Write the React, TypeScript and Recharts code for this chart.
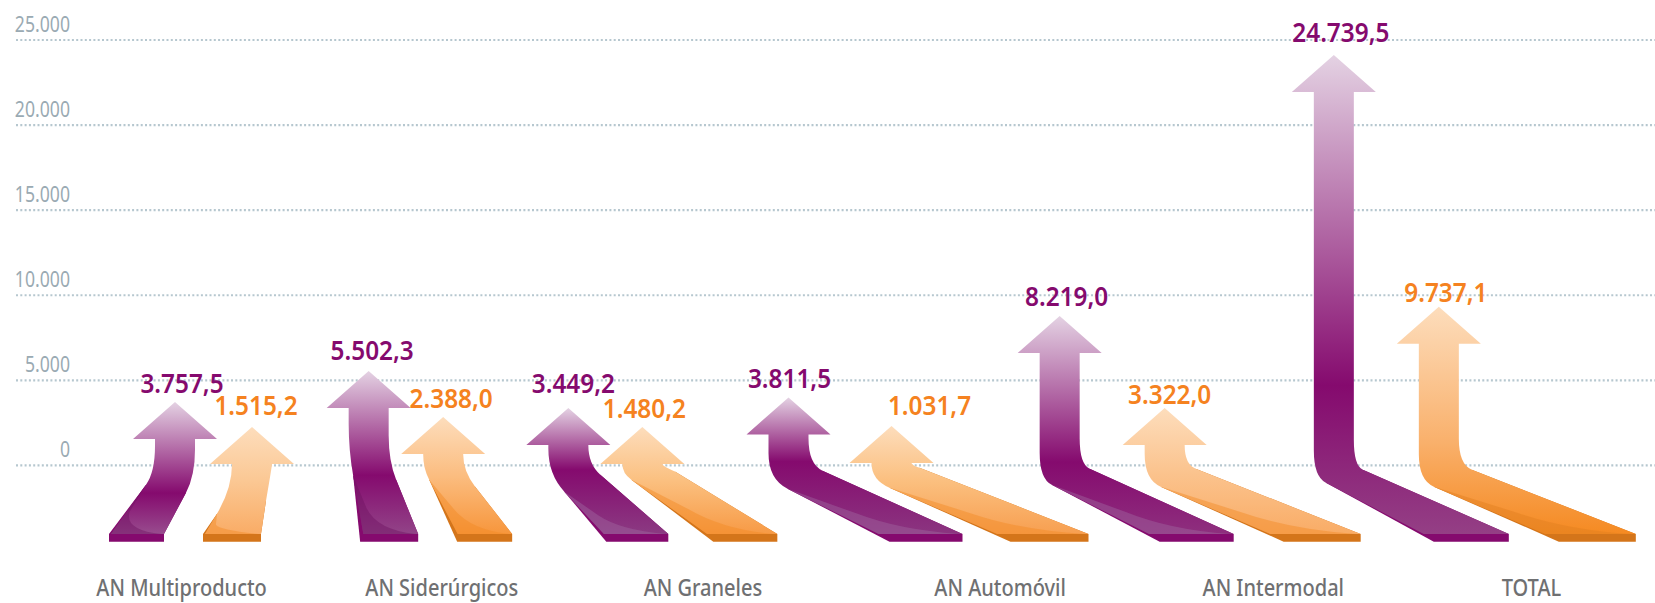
import React from 'react';
import { ComposedChart, Bar, XAxis, YAxis, CartesianGrid } from 'recharts';

const categories = ['AN Multiproducto', 'AN Siderúrgicos', 'AN Graneles', 'AN Automóvil', 'AN Intermodal', 'TOTAL'];

// Printed figures. The arrows in the source are not drawn to scale, so the
// heights below are read off the axis separately.
const purpleLabels = ['3.757,5', '5.502,3', '3.449,2', '3.811,5', '8.219,0', '24.739,5'];
const orangeLabels = ['1.515,2', '2.388,0', '1.480,2', '1.031,7', '3.322,0', '9.737,1'];
const purpleTops = [3730, 5550, 3375, 3995, 8780, 24120];
const orangeTops = [2260, 2845, 2260, 2320, 3375, 9330];

const yTicks = [0, 5000, 10000, 15000, 20000, 25000];
const yTickLabels = ['0', '5.000', '10.000', '15.000', '20.000', '25.000'];
const FOOT_VALUE = -4480;

const PURPLE = { tip: '#E4D2E3', side: '#850A6E' };
const ORANGE = { tip: '#FDDDBC', side: '#D4751A' };

// Hand-placed shape of each arrow, the source is a pictogram and not a regular bar
interface ArrowShape {
  dx: number; // shaft centre relative to the bar slot
  foot: [number, number]; // foot left / right relative to the shaft
  kneeL: [number, number]; // x relative to the shaft, height above the bottom
  kneeR: [number, number];
  midAt: number; // where the gradient reaches its middle colour, 0-1 from the tip
  mid: string;
  end: string; // colour at the foot
  swoosh?: string;
  text: [number, number]; // label offset from the tip
}

const purpleShapes: ArrowShape[] = [
  { dx: 60, foot: [-66, -11], kneeL: [-29, 57], kneeR: [11, 49], midAt: 0.69, mid: '#850A6E', end: '#984C8E', swoosh: '#6E1262', text: [7, -9] },
  { dx: -19.5, foot: [-8.5, 49.5], kneeL: [-15.5, 66], kneeR: [27.5, 62], midAt: 0.64, mid: '#850A6E', end: '#924488', swoosh: '#6E1262', text: [3.5, -11] },
  { dx: -93, foot: [38, 100], kneeL: [-4, 50], kneeR: [32, 67], midAt: 0.49, mid: '#850A6E', end: '#8B3A82', swoosh: '#A066A0', text: [5, -15] },
  { dx: -146, foot: [101, 174], kneeL: [-1, 53], kneeR: [34, 71], midAt: 0.47, mid: '#850A6E', end: '#8B3580', swoosh: '#A066A0', text: [1, -9] },
  { dx: -148, foot: [100, 174], kneeL: [-8, 57], kneeR: [30, 73], midAt: 0.67, mid: '#850A6E', end: '#8E2F7E', swoosh: '#A066A0', text: [7, -10] },
  { dx: -147, foot: [100, 175], kneeL: [-8, 59], kneeR: [29, 72], midAt: 0.69, mid: '#850A6E', end: '#943F85', text: [7, -13] },
];

const orangeShapes: ArrowShape[] = [
  { dx: 62, foot: [-49, 9], kneeL: [-35, 28], kneeR: [14, 41], midAt: 0.5, mid: '#FBC894', end: '#F9AC66', swoosh: '#F28A24', text: [4, -12] },
  { dx: -20, foot: [14, 69], kneeL: [-14, 62], kneeR: [32, 55], midAt: 0.5, mid: '#FBBD80', end: '#F7963C', swoosh: '#F28A24', text: [8, -9] },
  { dx: -94, foot: [71, 135], kneeL: [-11, 62], kneeR: [33, 70], midAt: 0.5, mid: '#FBC080', end: '#F79A45', swoosh: '#F28A24', text: [2, -9] },
  { dx: -118, foot: [119, 197], kneeL: [-2, 54], kneeR: [28, 74], midAt: 0.5, mid: '#FBC080', end: '#F79F50', swoosh: '#F28A24', text: [38, -11] },
  { dx: -118, foot: [119, 196], kneeL: [-4, 55], kneeR: [31, 73], midAt: 0.5, mid: '#FBC48F', end: '#F9AC66', swoosh: '#F28A24', text: [5, -4] },
  { dx: -117, foot: [120, 197], kneeL: [-5, 55], kneeR: [33, 72], midAt: 0.6, mid: '#F9B06B', end: '#F58A22', swoosh: '#E07E1E', text: [7, -5] },
];

const rows = categories.map((name, i) => ({ name, purple: purpleTops[i], orange: orangeTops[i] }));

const HEAD_HALF = 42;
const HEAD_H = 37;
const SHAFT_HALF = 20;
const BAND_H = 7.7;

// curve from the vertical shaft into the slanted foot edge: the control point
// sits where the two lines cross so the bend has no kink
const bend = (shaftX: number, kneeX: number, kneeY: number, endX: number, endY: number, headBase: number) => {
  const run = endX - kneeX;
  const cross = Math.abs(run) < 1 ? kneeY - 6 : kneeY + ((shaftX - kneeX) * (endY - kneeY)) / run;
  const ctrlY = Math.max(headBase + 2, Math.min(cross, kneeY - 2));
  const reach = Math.max(Math.hypot(kneeX - shaftX, kneeY - ctrlY), 26);
  return { ctrlY, startY: Math.max(headBase, ctrlY - reach) };
};

const makeArrow = (prefix: string, shapes: ArrowShape[], labels: string[], pal: typeof PURPLE, textColor: string) =>
  (props: any) => {
    const { x, y, width, height, index } = props;
    const s = shapes[index];
    const cx = x + width / 2 + s.dx;
    const bottom = y + height;
    const footTop = bottom - BAND_H;
    const headBase = y + HEAD_H;
    const sl = cx - SHAFT_HALF;
    const sr = cx + SHAFT_HALF;
    const footL = cx + s.foot[0];
    const footR = cx + s.foot[1];
    const klx = cx + s.kneeL[0];
    const kly = bottom - s.kneeL[1];
    const krx = cx + s.kneeR[0];
    const kry = bottom - s.kneeR[1];
    const leanRight = footL > klx;
    // edge of the top face where it meets the front band
    const faceBL = leanRight
      ? footL - ((footL - klx) * BAND_H) / s.kneeL[1] + 4
      : footL + 2;
    const right = bend(sr, krx, kry, footR, footTop, headBase);
    const left = bend(sl, klx, kly, faceBL, footTop, headBase);

    const face = [
      `M${cx},${y}`,
      `L${cx + HEAD_HALF},${headBase}`,
      `L${sr},${headBase}`,
      `L${sr},${right.startY}`,
      `Q${sr},${right.ctrlY} ${krx},${kry}`,
      `L${footR},${footTop}`,
      `L${faceBL},${footTop}`,
      `L${klx},${kly}`,
      `Q${sl},${left.ctrlY} ${sl},${left.startY}`,
      `L${sl},${headBase}`,
      `L${cx - HEAD_HALF},${headBase}`,
      'Z',
    ].join(' ');

    const side = leanRight
      ? `M${klx},${kly} L${footL},${bottom} L${footR},${bottom} L${footR},${footTop} L${krx},${kry} Z`
      : `M${klx},${kly} L${footL},${footTop} L${footL},${bottom} L${footR},${bottom} L${footR},${footTop} L${krx},${kry} Z`;

    const w = footR - faceBL;
    const swoosh = `M${klx},${kly} L${faceBL},${footTop} L${faceBL + w * 0.95},${footTop} Q${faceBL + w * 0.25},${footTop - 4} ${faceBL + (klx - faceBL) * 0.35 + w * 0.12},${kly + (footTop - kly) * 0.55} Z`;

    const id = `${prefix}-${index}`;
    const tx = cx + s.text[0];
    const ty = y + s.text[1];
    return (
      <g>
        <defs>
          <linearGradient id={id} gradientUnits="userSpaceOnUse" x1="0" x2="0" y1={y} y2={footTop}>
            <stop offset="0" stopColor={pal.tip} />
            <stop offset={s.midAt} stopColor={s.mid} />
            <stop offset="1" stopColor={s.end} />
          </linearGradient>
        </defs>
        <path d={side} fill={pal.side} />
        <path d={face} fill={`url(#${id})`} />
        {s.swoosh && <path d={swoosh} fill={s.swoosh} opacity={0.45} />}
        <text
          transform={`translate(${tx},${ty}) scale(0.92,1)`}
          textAnchor="middle"
          fontFamily="'Noto Sans', sans-serif"
          fontWeight={600}
          fontSize={26.5}
          fill={textColor}
        >
          {labels[index]}
        </text>
      </g>
    );
  };

const PurpleArrow = makeArrow('p', purpleShapes, purpleLabels, PURPLE, '#850A6E');
const OrangeArrow = makeArrow('o', orangeShapes, orangeLabels, ORANGE, '#F58220');

const labelDx = [29, 16, 4, 28, 28, 13];

const CategoryTick = ({ x, y, payload, index }: any) => (
  <text
    transform={`translate(${x + labelDx[index]},${y + 46}) scale(0.87,1)`}
    textAnchor="middle"
    fontFamily="'Noto Sans', sans-serif"
    fontWeight={500}
    fontSize={23}
    fill="#6F7072"
  >
    {payload.value}
  </text>
);

const ValueTick = ({ y, payload }: any) => (
  <text
    transform={`translate(70,${y - 8}) scale(0.84,1)`}
    textAnchor="end"
    fontFamily="'Noto Sans', sans-serif"
    fontSize={21}
    fill="#9AAAB3"
  >
    {yTickLabels[yTicks.indexOf(payload.value)]}
  </text>
);

export default function App() {
  return (
    <div style={{ position: 'absolute', left: 0, top: 0, width: 1655, height: 603 }}>
      <ComposedChart
        width={1655}
        height={603}
        data={rows}
        margin={{ top: 40, right: 0, bottom: 31.3, left: 0 }}
        barSize={40}
        barGap={35}
      >
        <CartesianGrid
          horizontal
          vertical={false}
          syncWithTicks
          stroke="#B6C7CF"
          strokeWidth={2.2}
          strokeDasharray="2 2.3"
        />
        <XAxis
          dataKey="name"
          interval={0}
          height={30}
          axisLine={false}
          tickLine={false}
          tick={<CategoryTick />}
        />
        <YAxis
          width={16}
          domain={[FOOT_VALUE, 25000]}
          ticks={yTicks}
          axisLine={false}
          tickLine={false}
          tick={<ValueTick />}
        />
        <Bar dataKey={(d: any) => [FOOT_VALUE, d.purple]} shape={PurpleArrow} isAnimationActive={false} />
        <Bar dataKey={(d: any) => [FOOT_VALUE, d.orange]} shape={OrangeArrow} isAnimationActive={false} />
      </ComposedChart>
    </div>
  );
}
